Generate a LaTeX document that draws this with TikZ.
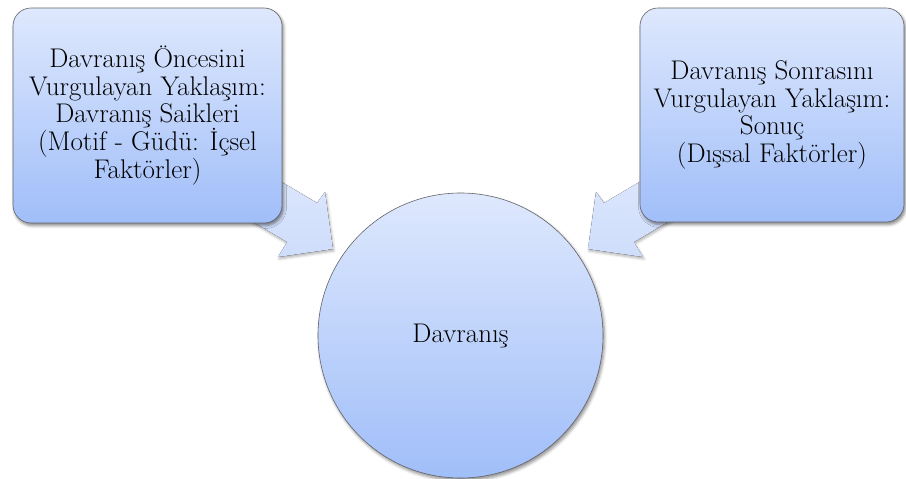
\documentclass[tikz,border=0pt]{standalone}
\usetikzlibrary{shadows.blur}
\definecolor{boxtop}{RGB}{222,232,253}
\definecolor{boxbot}{RGB}{160,190,249}
\definecolor{arrtop}{RGB}{224,233,253}
\definecolor{arrbot}{RGB}{206,221,251}
\definecolor{edgegray}{RGB}{100,100,105}
\tikzset{
  bluebox/.style={draw=edgegray, line width=0.6pt, rounded corners=18pt,
    top color=boxtop, bottom color=boxbot, align=center, inner sep=0pt,
    font=\fontsize{27}{27.7}\selectfont,
    blur shadow={shadow xshift=1.5pt, shadow yshift=-2.5pt, shadow blur radius=3pt, shadow opacity=50}},
  bluecircle/.style={circle, draw=edgegray, line width=0.6pt, inner sep=0pt,
    minimum size=285pt, top color=boxtop, bottom color=boxbot,
    font=\fontsize{27}{27.7}\selectfont,
    blur shadow={shadow xshift=1.5pt, shadow yshift=-2.5pt, shadow blur radius=3pt, shadow opacity=45}},
  blockarrow/.style={top color=arrtop, bottom color=arrbot, draw=none,
    blur shadow={shadow xshift=1pt, shadow yshift=-2pt, shadow blur radius=2.5pt, shadow opacity=30}}
}
\begin{document}
\begin{tikzpicture}[x=1pt,y=-1pt]
\useasboundingbox (0,0) rectangle (906,479);
% left block arrow
\coordinate (la1) at (231,152);
\coordinate (la2) at (317,203);
\coordinate (la3) at (325,192);
\coordinate (laT) at (333,249);
\coordinate (la4) at (278,257);
\coordinate (la5) at (287,242);
\coordinate (la6) at (201,191);
\fill[blockarrow] (la1) -- (la2) -- (la3) -- (laT) -- (la4) -- (la5) -- (la6) -- cycle;
% right block arrow (mirror about x=460.5)
\coordinate (ra1) at (690,152);
\coordinate (ra2) at (604,203);
\coordinate (ra3) at (596,192);
\coordinate (raT) at (588,249);
\coordinate (ra4) at (643,257);
\coordinate (ra5) at (634,242);
\coordinate (ra6) at (720,191);
\fill[blockarrow] (ra1) -- (ra2) -- (ra3) -- (raT) -- (ra4) -- (ra5) -- (ra6) -- cycle;
% boxes
\node[bluebox, minimum width=269pt, minimum height=215pt] (L) at (147.5,115.5)
  {Davranış Öncesini\\Vurgulayan Yaklaşım:\\Davranış Saikleri\\(Motif - Güdü: İçsel\\Faktörler)};
\node[bluebox, minimum width=264pt, minimum height=214pt] (R) at (772,115)
  {Davranış Sonrasını\\Vurgulayan Yaklaşım:\\Sonuç\\(Dışsal Faktörler)};
% circle
\node[bluecircle] (C) at (460.5,335.5) {Davranış};
\end{tikzpicture}
\end{document}
